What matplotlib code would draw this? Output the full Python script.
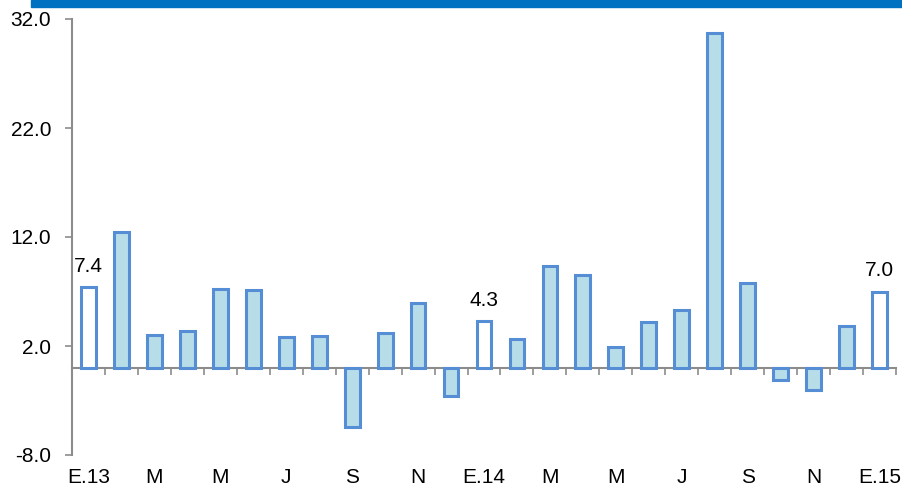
import numpy as np
import matplotlib.pyplot as plt
from matplotlib.transforms import blended_transform_factory

values = [7.4, 12.5, 3.0, 3.4, 7.2, 7.1, 2.8, 2.9, -5.4, 3.2, 5.9, -2.6,
          4.3, 2.6, 9.3, 8.5, 1.9, 4.2, 5.3, 30.7, 7.8, -1.1, -2.0, 3.8, 7.0]
month_labels = ["E.13", "M", "M", "J", "S", "N", "E.14", "M", "M", "J", "S", "N", "E.15"]
highlight = [0, 12, 24]

plt.rcParams['font.family'] = ['Liberation Sans', 'DejaVu Sans']
fs = 15

fig = plt.figure(figsize=(9.02, 4.93), dpi=100)
ax = fig.add_axes([72 / 902, 1 - 455 / 493, (896 - 72) / 902, (455 - 19) / 493])

x = np.arange(len(values))
fills = ["white" if i in highlight else "#B7DDE8" for i in x]
ax.bar(x, values, width=0.45, color=fills, edgecolor="#558ED5", linewidth=2.2, zorder=3)

for i in highlight:
    ax.annotate(f"{values[i]:.1f}", (i, values[i]), xytext=(0, 11), textcoords="offset points",
                ha="center", va="baseline", fontsize=fs)

ax.set_xlim(-0.5, len(values) - 0.5)
ax.set_ylim(-8, 32)
ax.set_yticks([-8, 2, 12, 22, 32])
ax.set_yticklabels([f"{v:.1f}" for v in [-8, 2, 12, 22, 32]], fontsize=fs)

for s in ["top", "right"]:
    ax.spines[s].set_visible(False)
ax.spines["bottom"].set_position(("data", 0))
for s in ["left", "bottom"]:
    ax.spines[s].set_color("#8C8C8C")
    ax.spines[s].set_linewidth(1.5)

ax.set_xticks(np.arange(0.5, len(values), 1))
ax.set_xticklabels([])
ax.tick_params(axis="x", direction="out", length=5, color="#8C8C8C", width=1.2)
ax.tick_params(axis="y", direction="out", length=5, color="#8C8C8C", width=1.2, pad=10)

trans = blended_transform_factory(ax.transData, ax.transAxes)
for k, lab in enumerate(month_labels):
    ax.text(2 * k, -0.03, lab, transform=trans, ha="center", va="top", fontsize=fs)

# blue band at top
fig.patches.append(plt.Rectangle((31 / 902, 1 - 7 / 493), 1, 7 / 493, transform=fig.transFigure,
                                 color="#0070C0", zorder=0))

fig.savefig("out.png", dpi=100)
